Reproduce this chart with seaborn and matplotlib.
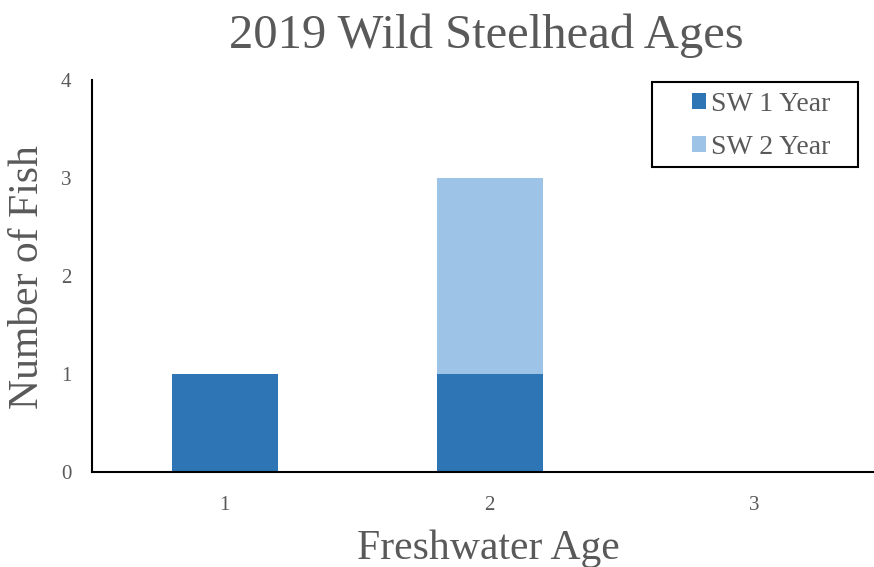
import matplotlib
matplotlib.use("Agg")
import matplotlib.pyplot as plt
import numpy as np
import pandas as pd
import seaborn as sns
from matplotlib.patches import Rectangle

# data
ages = ["1", "2", "3"]
sw1 = [1, 1, 0]
sw2 = [0, 2, 0]
yticks = [0, 1, 2, 3, 4]

sns.set_theme(style="white")
plt.rcParams["font.family"] = ["Liberation Serif", "DejaVu Serif"]
gray = "#595959"

fig = plt.figure(figsize=(8.74, 5.67), dpi=100)
ax = fig.add_axes([92 / 874, 95 / 567, (887 - 92) / 874, 392 / 567])

df1 = pd.DataFrame({"age": ages, "n": sw1})
df2 = pd.DataFrame({"age": ages, "n": sw2})

sns.barplot(data=df1, x="age", y="n", order=ages, color="#2E75B6",
            width=0.4, saturation=1, ax=ax, label="SW 1 Year", linewidth=0)
sns.barplot(data=df2, x="age", y="n", order=ages, color="#9DC3E6",
            width=0.4, saturation=1, ax=ax, label="SW 2 Year", linewidth=0,
            bottom=np.array(sw1))

ax.set_xlim(-0.5, 2.5)
ax.set_ylim(0, 4)
ax.set_yticks(yticks)
ax.tick_params(axis="both", length=0, labelsize=15, colors=gray)
ax.tick_params(axis="y", pad=15)
ax.tick_params(axis="x", pad=17)

for s in ["top", "right"]:
    ax.spines[s].set_visible(False)
for s in ["left", "bottom"]:
    ax.spines[s].set_color("black")
    ax.spines[s].set_linewidth(1.5)

ax.set_xlabel("")
ax.set_ylabel("")
fig.text(488 / 874, 1 - 549 / 567, "Freshwater Age", fontsize=30, color=gray,
         ha="center", va="center")
fig.text(28 / 874, 1 - 277 / 567, "Number of Fish", fontsize=30, color=gray,
         ha="center", va="center", rotation=90)
fig.text(486 / 874, 1 - 36 / 567, "2019 Wild Steelhead Ages", fontsize=35,
         color=gray, ha="center", va="center")

# legend box spans x 652..858, y 82..167 in the reference
def to_ax(px, py):
    return (px - 92) / 795, (472 - py) / 392

x0, y0 = to_ax(652, 167)
x1, y1 = to_ax(858, 82)
ax.add_patch(Rectangle((x0, y0), x1 - x0, y1 - y0, transform=ax.transAxes,
                       fill=False, edgecolor="black", linewidth=1.5,
                       clip_on=False, zorder=5))

leg = ax.legend(loc="center left", bbox_to_anchor=to_ax(692, 126),
                borderaxespad=0, borderpad=0, fontsize=20, frameon=False,
                handlelength=0.5, handleheight=0.5, handletextpad=0.2,
                labelspacing=0.65)
for t in leg.get_texts():
    t.set_color(gray)

fig.savefig("out.png", dpi=100)
